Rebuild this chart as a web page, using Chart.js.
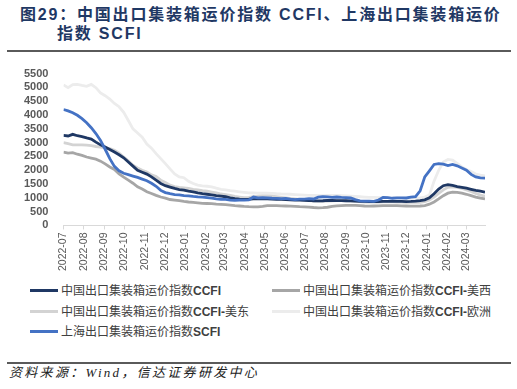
<!DOCTYPE html>
<html>
<head>
<meta charset="utf-8">
<script src="https://cdn.jsdelivr.net/npm/chart.js@4.4.1/dist/chart.umd.min.js"></script>
<style>
  body { margin: 0; background: #fff; }
  #page { position: relative; width: 517px; height: 389px; overflow: hidden; font-family: "Liberation Sans", "Noto Sans CJK SC", sans-serif; }
  .title { position: absolute; white-space: nowrap; font-weight: bold; font-size: 16px; line-height: 20px; letter-spacing: 1.8px; color: #1f3864; }
  .rule { position: absolute; left: 7px; width: 504px; height: 2px; background: #5a5a5a; }
  #chartBox { position: absolute; left: 0; top: 60px; width: 517px; height: 216px; }
  .item { position: absolute; height: 16px; white-space: nowrap; font-size: 12px; line-height: 16px; color: #404040; }
  .item i { display: inline-block; width: 28px; height: 3px; vertical-align: middle; margin: -2px 3px 0 0; }
  #source { position: absolute; left: 9px; top: 365px; white-space: nowrap; font-family: "Liberation Serif", "Noto Sans CJK SC", serif; font-style: italic; font-size: 13px; line-height: 16px; letter-spacing: 2.3px; color: #222; }
</style>
</head>
<body>
<div id="page">
  <div class="title" style="left:20px; top:5px;">图29：中国出口集装箱运价指数 CCFI、上海出口集装箱运价</div>
  <div class="title" style="left:57px; top:24px;">指数 SCFI</div>
  <div class="rule" style="top:50px;"></div>

  <div id="chartBox"><canvas id="freightChart"></canvas></div>

  <div class="item" style="left:30px; top:283px;"><i style="background:#1f3864"></i>中国出口集装箱运价指数<b>CCFI</b></div>
  <div class="item" style="left:272px; top:283px;"><i style="background:#a6a6a6"></i>中国出口集装箱运价指数<b>CCFI-</b>美西</div>
  <div class="item" style="left:30px; top:304px;"><i style="background:#d3d3d3"></i>中国出口集装箱运价指数<b>CCFI-</b>美东</div>
  <div class="item" style="left:272px; top:304px;"><i style="background:#ececec"></i>中国出口集装箱运价指数<b>CCFI-</b>欧洲</div>
  <div class="item" style="left:30px; top:324px;"><i style="background:#4472c4"></i>上海出口集装箱运价指数<b>SCFI</b></div>

  <div class="rule" style="top:362px;"></div>
  <div id="source">资料来源：Wind，信达证券研发中心</div>
</div>

<script>
// 周度日期（每周五）
const dates = [
  '2022-07-01','2022-07-08','2022-07-15','2022-07-22','2022-07-29','2022-08-05','2022-08-12','2022-08-19','2022-08-26',
  '2022-09-02','2022-09-09','2022-09-16','2022-09-23','2022-09-30','2022-10-07','2022-10-14','2022-10-21','2022-10-28',
  '2022-11-04','2022-11-11','2022-11-18','2022-11-25','2022-12-02','2022-12-09','2022-12-16','2022-12-23','2022-12-30',
  '2023-01-06','2023-01-13','2023-01-20','2023-01-27','2023-02-03','2023-02-10','2023-02-17','2023-02-24',
  '2023-03-03','2023-03-10','2023-03-17','2023-03-24','2023-03-31','2023-04-07','2023-04-14','2023-04-21','2023-04-28',
  '2023-05-05','2023-05-12','2023-05-19','2023-05-26','2023-06-02','2023-06-09','2023-06-16','2023-06-23','2023-06-30',
  '2023-07-07','2023-07-14','2023-07-21','2023-07-28','2023-08-04','2023-08-11','2023-08-18','2023-08-25',
  '2023-09-01','2023-09-08','2023-09-15','2023-09-22','2023-09-29','2023-10-06','2023-10-13','2023-10-20','2023-10-27',
  '2023-11-03','2023-11-10','2023-11-17','2023-11-24','2023-12-01','2023-12-08','2023-12-15','2023-12-22','2023-12-29',
  '2024-01-05','2024-01-12','2024-01-19','2024-01-26','2024-02-02','2024-02-09','2024-02-16','2024-02-23',
  '2024-03-01','2024-03-08','2024-03-15','2024-03-22','2024-03-29'
];

// x轴月份刻度
const monthLabels = [
  '2022-07','2022-08','2022-09','2022-10','2022-11','2022-12','2023-01','2023-02','2023-03','2023-04','2023-05',
  '2023-06','2023-07','2023-08','2023-09','2023-10','2023-11','2023-12','2024-01','2024-02','2024-03'
];

const ccfi = [
  3260,3240,3300,3250,3220,3170,3130,3020,2920,2840,
  2750,2660,2560,2450,2300,2150,2000,1930,1860,1760,
  1640,1520,1440,1390,1340,1300,1280,1240,1220,1180,
  1150,1130,1110,1080,1060,1040,1000,970,950,945,
  950,960,965,965,960,955,950,945,940,930,
  920,915,910,905,895,890,895,905,910,900,
  900,895,890,880,875,870,865,860,860,870,
  875,870,875,870,865,870,880,900,930,1000,
  1150,1320,1440,1480,1450,1410,1380,1350,1310,1270,
  1240,1210
];

const ccfiUSWest = [
  2660,2620,2640,2580,2540,2480,2440,2400,2330,2230,
  2120,2030,1870,1750,1640,1530,1400,1320,1220,1160,
  1090,1030,990,940,920,900,870,850,835,820,
  800,795,790,775,765,755,740,720,705,690,
  680,675,670,690,715,720,715,710,705,700,
  690,680,675,665,650,640,645,660,690,710,
  720,725,730,725,715,705,700,705,710,715,
  720,715,715,710,705,700,700,705,720,770,
  850,960,1080,1170,1210,1200,1170,1130,1080,1030,
  990,960
];

const ccfiUSEast = [
  3000,2960,2920,2920,2920,2910,2890,2860,2840,2810,
  2780,2720,2620,2480,2340,2180,2080,2000,1940,1830,
  1770,1640,1560,1460,1410,1380,1360,1340,1310,1290,
  1260,1240,1210,1180,1140,1120,1090,1050,1030,1010,
  1020,1040,1060,1070,1070,1060,1040,1020,1000,980,
  960,940,920,900,880,870,870,880,890,900,
  900,890,880,870,860,850,845,845,850,855,
  860,855,850,845,840,835,835,840,860,920,
  1030,1160,1290,1380,1400,1380,1340,1290,1230,1160,
  1100,1060
];

const ccfiEurope = [
  5090,4990,5100,5110,5070,5040,5110,4990,4800,4700,
  4580,4420,4300,4100,3800,3500,3350,3200,2950,2800,
  2600,2420,2240,2050,1870,1760,1730,1600,1520,1460,
  1430,1420,1400,1350,1310,1290,1260,1240,1220,1200,
  1180,1175,1170,1170,1170,1165,1150,1140,1135,1130,
  1120,1110,1100,1090,1085,1080,1080,1085,1090,1085,
  1080,1070,1060,1050,1040,1030,1020,1015,1010,1010,
  1005,1000,995,990,985,985,990,1000,1030,1100,
  1600,2000,2300,2390,2370,2250,2120,2030,1950,1860,
  1820,1790
];

const scfi = [
  4200,4150,4080,3990,3870,3720,3540,3330,3080,2760,
  2420,2140,1980,1890,1840,1790,1740,1680,1620,1530,
  1420,1270,1190,1150,1120,1110,1080,1070,1050,1035,
  1025,1010,990,965,950,945,920,910,915,920,
  925,1030,1000,1005,1000,985,980,975,980,955,
  935,955,955,975,960,1025,1040,1035,1015,1030,
  1015,1010,995,935,890,885,880,875,920,1015,
  1010,985,1000,1000,995,1025,1045,1255,1760,1980,
  2210,2240,2220,2170,2210,2160,2080,2000,1850,1760,
  1720,1715
];

const DAY = 86400000;
const start = Date.parse(dates[0]);
const dayOf = d => (Date.parse(d) - start) / DAY;
const xDays = dates.map(dayOf);
const tickDays = monthLabels.map(m => dayOf(m + '-01'));

function toPoints(values) {
  return values.map((v, i) => ({ x: xDays[i], y: v }));
}

function makeSet(label, values, color, order) {
  return {
    label,
    data: toPoints(values),
    borderColor: color,
    backgroundColor: color,
    borderWidth: 2.8,
    pointRadius: 0,
    tension: 0,
    order
  };
}

Chart.defaults.font.family = "'Liberation Sans', 'Noto Sans CJK SC', sans-serif";

new Chart(document.getElementById('freightChart'), {
  type: 'line',
  data: {
    datasets: [
      makeSet('上海出口集装箱运价指数SCFI', scfi, '#4472c4', 0),
      makeSet('中国出口集装箱运价指数CCFI', ccfi, '#1f3864', 1),
      makeSet('中国出口集装箱运价指数CCFI-美西', ccfiUSWest, '#a6a6a6', 2),
      makeSet('中国出口集装箱运价指数CCFI-美东', ccfiUSEast, '#d3d3d3', 3),
      makeSet('中国出口集装箱运价指数CCFI-欧洲', ccfiEurope, '#ececec', 4)
    ]
  },
  options: {
    responsive: true,
    maintainAspectRatio: false,
    animation: false,
    layout: { padding: { left: 17, right: 32, top: 11, bottom: 2 } },
    plugins: { legend: { display: false }, tooltip: { enabled: false } },
    scales: {
      x: {
        type: 'linear',
        min: 0,
        max: xDays[xDays.length - 1],
        afterBuildTicks: axis => { axis.ticks = tickDays.map(v => ({ value: v })); },
        ticks: {
          autoSkip: false,
          minRotation: 90,
          maxRotation: 90,
          padding: 3,
          color: '#595959',
          font: { size: 10.5 },
          callback: v => monthLabels[tickDays.indexOf(v)]
        },
        grid: { drawOnChartArea: false, drawTicks: true, tickLength: 4, color: '#d9d9d9' },
        border: { color: '#d9d9d9' }
      },
      y: {
        min: 0,
        max: 5500,
        ticks: {
          stepSize: 500,
          maxTicksLimit: 20,
          autoSkip: false,
          padding: 7,
          color: '#595959',
          font: { size: 11, weight: 'bold' },
          callback: v => String(v)
        },
        grid: { display: false },
        border: { display: false }
      }
    }
  }
});
</script>
</body>
</html>
